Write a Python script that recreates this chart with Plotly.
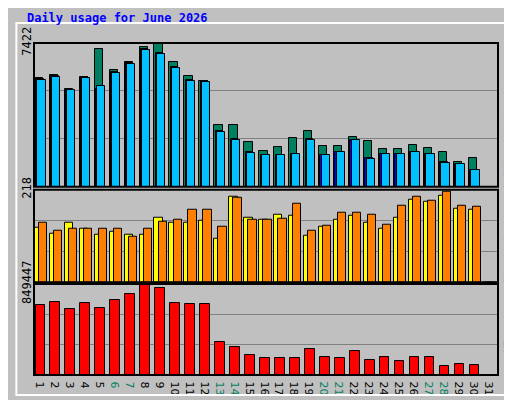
import plotly.graph_objects as go

days = list(range(1, 32))
weekend = [6, 7, 13, 14, 20, 21, 27, 28]

hits = [5630, 5780, 5030, 5680, 7120, 6030, 6430, 7200, 7422, 6430, 5730, 5480,
        3190, 3190, 2290, 1840, 2040, 2540, 2890, 2090, 2090, 2590, 2340, 1940,
        1940, 2140, 1990, 1790, 1290, 1490, 0]
files = [5580, 5730, 5010, 5660, 5030, 5930, 6370, 7110, 6920, 6180, 5520, 5460,
         2860, 2470, 1770, 1660, 1660, 1710, 2460, 1660, 1810, 2410, 1460, 1710,
         1710, 1810, 1710, 1270, 1170, 870, 0]
pages = [5530, 5680, 4980, 5630, 5180, 5880, 6320, 7070, 6870, 6130, 5480, 5430,
         2840, 2440, 1740, 1640, 1640, 1690, 2440, 1640, 1790, 2390, 1440, 1690,
         1690, 1790, 1690, 1250, 1150, 850, 0]
visits = [129, 115, 140, 126, 112, 119, 112, 112, 151, 140, 140, 145, 103, 202,
          151, 147, 158, 156, 110, 131, 147, 156, 140, 126, 151, 195, 190, 204,
          174, 172, 0]
sites = [140, 122, 126, 126, 126, 126, 108, 126, 142, 147, 172, 172, 131, 200,
         147, 147, 149, 186, 122, 133, 165, 165, 158, 135, 181, 202, 193, 213,
         181, 179, 0]
kbytes = [649000, 685000, 612000, 676000, 621000, 703000, 758000, 849447, 813000,
          676000, 667000, 667000, 311000, 265000, 183000, 155000, 155000, 155000,
          247000, 164000, 155000, 228000, 137000, 164000, 128000, 164000, 164000,
          82000, 100000, 91000, 0]

max_hits = 7422
max_sites = 218
max_kb = 849447

fig = go.Figure()
line = dict(color="black", width=1)

def bar(y, color, offset, width, yaxis):
    fig.add_trace(go.Bar(x=days, y=y, offset=offset, width=width,
                         marker=dict(color=color, line=line),
                         xaxis="x", yaxis=yaxis, hoverinfo="y"))

bar(hits, "#008060", -0.45, 0.55, "y")
bar(files, "#0000ff", -0.36, 0.5, "y")
bar(pages, "#00c0ff", -0.28, 0.55, "y")
bar(visits, "#ffff00", -0.45, 0.55, "y2")
bar(sites, "#ff8000", -0.18, 0.55, "y2")
bar(kbytes, "#ff0000", -0.4, 0.65, "y3")

ticktext = [f"<span style='color:#008060'>{d}</span>" if d in weekend else str(d)
            for d in days]

common_y = dict(showline=False, gridcolor="#808080", gridwidth=1, zeroline=False,
                fixedrange=True, tickangle=-90,
                tickfont=dict(family="DejaVu Sans Mono", size=12, color="black"),
                ticks="", anchor="x")

def yax(domain, mx):
    return dict(common_y, domain=domain, range=[0, mx],
                tickvals=[mx / 3, 2 * mx / 3, mx], ticktext=["", "", str(mx)])

fig.update_layout(
    width=512, height=400,
    paper_bgcolor="#c0c0c0", plot_bgcolor="#c0c0c0",
    margin=dict(l=20, r=22, t=25, b=24),
    barmode="overlay", bargap=0, showlegend=False,
    xaxis=dict(range=[0.5, 31.5], tickvals=days, ticktext=ticktext, ticks="",
               anchor="y3", showline=False, showgrid=False, fixedrange=True,
               tickfont=dict(family="DejaVu Sans", size=11, color="black")),
    yaxis=yax([0.567, 1], max_hits),
    yaxis2=yax([0.279, 0.558], max_sites),
    yaxis3=yax([0, 0.274], max_kb),
    title=dict(text="<b>Daily usage for June 2026</b>", x=0.037, xanchor="left",
               y=0.985, yanchor="top",
               font=dict(family="DejaVu Sans Mono", size=12, color="#0000ff")),
)

# panel borders
for ya in ["y", "y2", "y3"]:
    fig.add_shape(type="rect", xref="x domain", yref=f"{ya} domain",
                  x0=0, x1=1, y0=0, y1=1, line=dict(color="black", width=2),
                  layer="above")

# Series labels down the right side
mono = "DejaVu Sans Mono"
def side(parts, y):
    text = "<span style='color:black'> / </span>".join(
        f"<span style='color:{c}'>{t}</span>" for t, c in parts)
    fig.add_annotation(text=text, xref="paper", yref="paper", x=1, y=y,
                       textangle=-90, showarrow=False, xanchor="left",
                       xshift=2, font=dict(family=mono, size=11))

side([("Pages", "#00c0ff"), ("Files", "#0000ff"), ("Hits", "#008060")], 0.84)
side([("Sites", "#ff8000"), ("Visits", "#ffff00")], 0.415)
side([("KBytes", "#ff0000")], 0.06)

# outer frame
fig.add_shape(type="rect", xref="paper", yref="paper", x0=-0.038, x1=1.04,
              y0=-0.06, y1=1.06, line=dict(color="white", width=2))

fig.write_html("out.html")
